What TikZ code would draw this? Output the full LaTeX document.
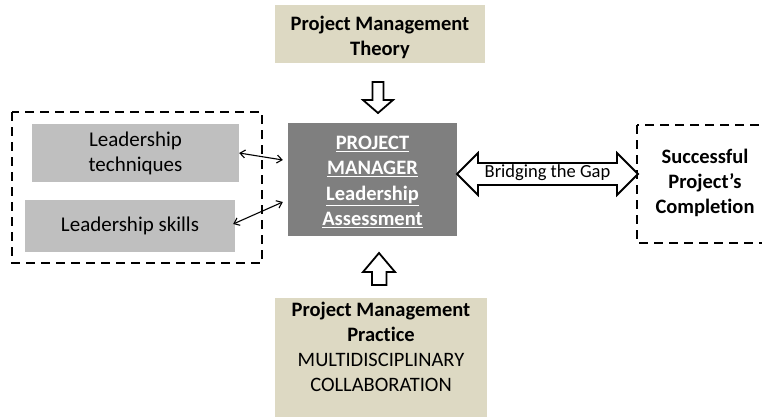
\documentclass[tikz,border=0pt]{standalone}
\usepackage{fontspec}
\setmainfont{Carlito}[Ligatures=NoCommon]
\usetikzlibrary{arrows.meta}
\definecolor{tanfill}{HTML}{DDD9C3}
\definecolor{midgray}{HTML}{7F7F7F}
\definecolor{lightgray}{HTML}{BFBFBF}
\begin{document}
\begin{tikzpicture}[x=1pt,y=-1pt,
  tanbox/.style={fill=tanfill,draw=none,inner sep=0pt},
  greybox/.style={fill=lightgray,draw=none,inner sep=0pt,align=center,
    font=\fontsize{21}{25}\selectfont},
  frame/.style={draw=black,line width=2.4pt,dash pattern=on 9pt off 6pt},
  hollow/.style={draw=black,fill=white,line width=1.8pt,line join=miter},
  thinlink/.style={line width=1.1pt,{Straight Barb[length=5pt,width=8pt]}-{Straight Barb[length=5pt,width=8pt]}},
  txt/.style={align=center,inner sep=0pt}]
\useasboundingbox (0,0) rectangle (762,417);

% theory box on top
\node[tanbox,minimum width=210pt,minimum height=58pt] (theory) at (380,34) {};
\node[txt,font=\bfseries\fontsize{20.5}{25}\selectfont] (theorytext) at (380,37)
  {Project Management\\Theory};

% practice box at the bottom
\node[tanbox,minimum width=212pt,minimum height=119pt] (practice) at (381,357.5) {};
\node[txt,font=\fontsize{20.5}{25}\selectfont] (practicetext) at (381,347)
  {\textbf{Project Management}\\\textbf{Practice}\\MULTIDISCIPLINARY\\COLLABORATION};

% central assessment box
\node[fill=midgray,draw=none,minimum width=169pt,minimum height=113pt] (manager)
  at (372.5,179.5) {};
\node[txt,text=white,font=\bfseries\fontsize{20.5}{25.5}\selectfont] (managertext)
  at (372.5,182)
  {\underline{PROJECT}\\\underline{MANAGER}\\\underline{Leadership}\\\underline{Assessment}};

% leadership group on the left
\node[greybox,minimum width=207pt,minimum height=58pt] (techniques) at (135.5,153)
  {Leadership\\techniques};
\node[greybox,minimum width=210pt,minimum height=52pt] (skills) at (130,226)
  {Leadership skills};
\draw[frame] (12,112) rectangle (262,263);

% outcome box on the right
\draw[frame] (637,125) rectangle (790,243);
\node[txt,font=\bfseries\fontsize{20.5}{25}\selectfont] (outcome) at (705,183)
  {Successful\\Project’s\\Completion};

% links between the leadership boxes and the assessment
\draw[thinlink] (techniques.east) -- ([shift={(-5,-19.5)}]manager.west);
\draw[thinlink] ([shift={(-2,-2)}]skills.east) -- ([shift={(-5,22.5)}]manager.west);

% theory feeds down into the assessment
\draw[hollow] (372.5,82) -- (383.5,82) -- (383.5,100) -- (393,100) -- (378,113)
  -- (363,100) -- (372.5,100) -- cycle;
% practice feeds up into the assessment
\draw[hollow] (379,253) -- (395,272) -- (386.5,272) -- (386.5,285) -- (372,285)
  -- (372,272) -- (363,272) -- cycle;

% two-way bridge to the outcome
\draw[hollow] (457,174) -- (478,153) -- (478,163) -- (617,163) -- (617,153)
  -- (638,174) -- (617,195) -- (617,185) -- (478,185) -- (478,195) -- cycle;
\node[txt,font=\fontsize{18.5}{22}\selectfont] (bridge) at (547.5,173) {Bridging the Gap};
\end{tikzpicture}
\end{document}
